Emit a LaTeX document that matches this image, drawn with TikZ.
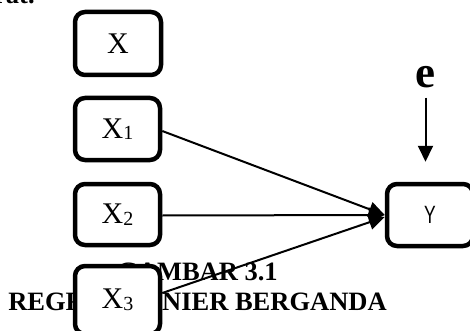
\documentclass[tikz,border=0pt]{standalone}
\usepackage{fontspec}
\setmainfont{Liberation Serif}
\newfontfamily\ysans{Liberation Sans}
\usetikzlibrary{arrows.meta}
\newcommand{\vsub}[2]{#1\raisebox{-1.5pt}{\fontsize{20}{20}\selectfont #2}}
\tikzset{
  varbox/.style={draw, line width=4.5pt, rounded corners=10pt, fill=white,
    minimum width=85pt, minimum height=62pt, inner sep=0pt,
    font=\fontsize{30}{30}\selectfont},
  link/.style={line width=2pt, -{Triangle[length=16pt, width=15pt]}},
  captext/.style={font=\fontsize{26.5}{26.5}\bfseries\selectfont, inner sep=0pt}
}
\begin{document}
\begin{tikzpicture}[x=1pt, y=-1pt]
  \useasboundingbox (0,0) rectangle (470,331);
  \clip (0,0) rectangle (470,331);
  % tail of the preceding text line
  \node[captext, anchor=base west] (prev) at (-6,4) {rat.};
  % figure caption
  \node[captext, anchor=base] (cap1) at (197.5,280) {GAMBAR 3.1};
  \node[captext, anchor=base] (cap2) at (197.5,310) {REGRESI LINIER BERGANDA};
  % variable boxes
  \node[varbox, minimum width=86pt, minimum height=63pt] (x) at (118,43.5) {X};
  \node[varbox] (x1) at (117.5,129) {\vsub{X}{1}};
  \node[varbox, minimum height=61pt] (x2) at (117.5,214.5) {\vsub{X}{2}};
  \node[varbox, minimum height=68pt] (x3) at (117.5,300) {\vsub{X}{3}};
  \node[varbox, minimum width=86pt] (y) at (430,215)
    {\ysans\fontsize{25}{25}\selectfont\scalebox{0.7}[1]{Y}};
  % error term
  \node[font=\fontsize{45}{45}\bfseries\selectfont, inner sep=0pt, anchor=base] (e) at (425.5,88) {e};
  % connectors
  \draw[link] ([yshift=-2pt]x1.east) -- (y.west);
  \draw[link] ([yshift=-1pt]x2.east) -- (y.west);
  \draw[link] ([yshift=7pt]x3.east) -- ([yshift=-2pt]y.west);
  \draw[link, shorten <=9pt, shorten >=20pt] (e.south) -- (e.south |- y.north);
\end{tikzpicture}
\end{document}
